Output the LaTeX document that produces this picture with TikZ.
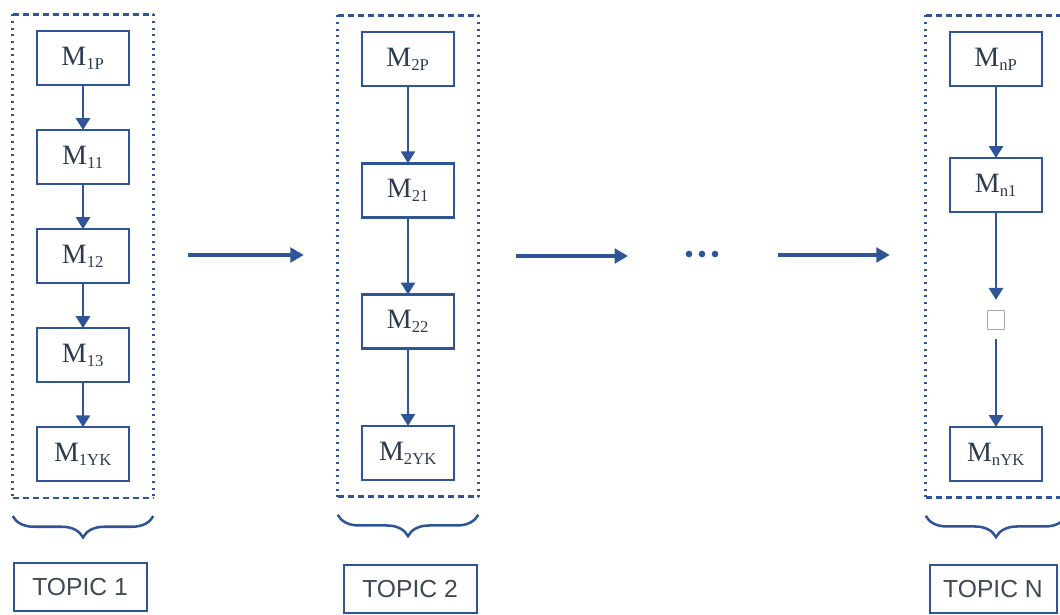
\documentclass[tikz,border=0pt]{standalone}
\usepackage{fontspec}
\setmainfont{Liberation Serif}
\newfontfamily\topicfont{Liberation Sans}
\usetikzlibrary{arrows.meta,positioning,fit,calc,decorations.pathreplacing}
\definecolor{lineblue}{HTML}{2F5597}
\definecolor{mtext}{HTML}{2E3A50}
\definecolor{topictext}{HTML}{404854}
\definecolor{gapgray}{HTML}{A6A6A6}
\newcommand{\msub}[1]{\textsubscript{\fontsize{12.5}{13}\selectfont #1}}
\tikzset{>/.tip={Triangle[length=9pt,width=10.5pt]}}
\tikzset{mbox/.style={draw=lineblue,line width=1.8pt,minimum width=69pt,minimum height=40.5pt,inner sep=0pt,outer sep=0pt,text=mtext,font=\fontsize{21}{23}\selectfont}}
\tikzset{topicbox/.style={draw=lineblue,line width=1.5pt,minimum width=99.75pt,minimum height=36pt,inner sep=0pt,text=topictext,font=\topicfont\fontsize{18.5}{20}\selectfont}}
\tikzset{frame/.style={inner xsep=18pt,inner ysep=12.4pt}}
\tikzset{dashside/.style={lineblue,line width=2.1pt,dash pattern=on 4.5pt off 3pt}}
\tikzset{dotside/.style={lineblue,line width=2.1pt,dash pattern=on 1.6pt off 3.4pt}}
\tikzset{link/.style={->,lineblue,line width=2.2pt}}
\tikzset{flow/.style={-{Triangle[length=10pt,width=11pt]},lineblue,line width=2.3pt}}
\tikzset{topicbrace/.style={lineblue,line width=1.9pt,decorate,decoration={brace,mirror,amplitude=16pt}}}

\begin{document}
\begin{tikzpicture}[x=0.75pt,y=-0.75pt]
      \useasboundingbox (0,0) rectangle (1060,614);

      % topic 1
      \begin{scope}[node distance=33.8pt]
        \node[mbox] (M1P) at (83,58) {M\msub{1P}};
        \node[mbox,below=of M1P] (M11) {M\msub{11}};
        \node[mbox,below=of M11] (M12) {M\msub{12}};
        \node[mbox,below=of M12] (M13) {M\msub{13}};
        \node[mbox,below=of M13] (M1YK) {M\msub{1YK}};
      \end{scope}
      \draw[link] (M1P) -- (M11);
      \draw[link] (M11) -- (M12);
      \draw[link] (M12) -- (M13);
      \draw[link] (M13) -- (M1YK);

      % topic 2
      \begin{scope}[node distance=58pt]
        \node[mbox] (M2P) at (408,59) {M\msub{2P}};
        \node[mbox,below=of M2P] (M21) {M\msub{21}};
        \node[mbox,below=of M21] (M22) {M\msub{22}};
        \node[mbox,below=of M22] (M2YK) {M\msub{2YK}};
      \end{scope}
      \draw[link,line width=1.7pt] (M2P) -- (M21);
      \draw[link,line width=1.7pt] (M21) -- (M22);
      \draw[link,line width=1.7pt] (M22) -- (M2YK);

      % topic n
      \node[mbox] (MnP) at (996,59) {M\msub{nP}};
      \node[mbox,below=54pt of MnP] (Mn1) {M\msub{n1}};
      \node[draw=gapgray,line width=1.1pt,minimum width=12.75pt,minimum height=14.25pt,inner sep=0pt,outer sep=0pt,below=73.9pt of Mn1] (Mgap) {};
      \node[mbox,below=73.1pt of Mgap] (MnYK) {M\msub{nYK}};
      \draw[link] (MnP) -- (Mn1);
      \draw[link,shorten >=8pt] (Mn1) -- (Mgap);
      \draw[link,shorten <=7pt] (Mgap) -- (MnYK);

      % frames and braces
      \node[frame,fit=(M1P)(M1YK)] (F1) {};
      \node[frame,fit=(M2P)(M2YK)] (F2) {};
      \node[frame,fit=(MnP)(MnYK)] (F3) {};
      \foreach \f in {F1,F2,F3} {
        \draw[dashside] (\f.north west) -- (\f.north east);
        \draw[dashside] (\f.south west) -- (\f.south east);
        \draw[dotside] (\f.north west) -- (\f.south west);
        \draw[dotside] (\f.north east) -- (\f.south east);
        \draw[topicbrace] ([yshift=-13.5pt]\f.south west) -- ([yshift=-13.5pt]\f.south east);
      }

      \node[topicbox] (T1) at (80,587) {TOPIC 1};
      \node[topicbox] (T2) at (410,589) {TOPIC 2};
      \node[topicbox,minimum width=95.25pt] (TN) at (993,589) {TOPIC N};

      % between topics
      \coordinate (dots) at (702,254);
      \foreach \dx in {-13,0,13}
        \fill[lineblue] ([xshift=\dx*0.75pt]dots) circle (2.5pt);
      \draw[flow] ($(F1.east |- dots)+(35,1)$) -- ($(F2.west |- dots)+(-34,1)$);
      \draw[flow] ($(F2.east |- dots)+(38,2)$) -- ($(dots)+(-74,2)$);
      \draw[flow] ($(dots)+(76,1)$) -- ($(F3.west |- dots)+(-36,1)$);
    \end{tikzpicture}
\end{document}
